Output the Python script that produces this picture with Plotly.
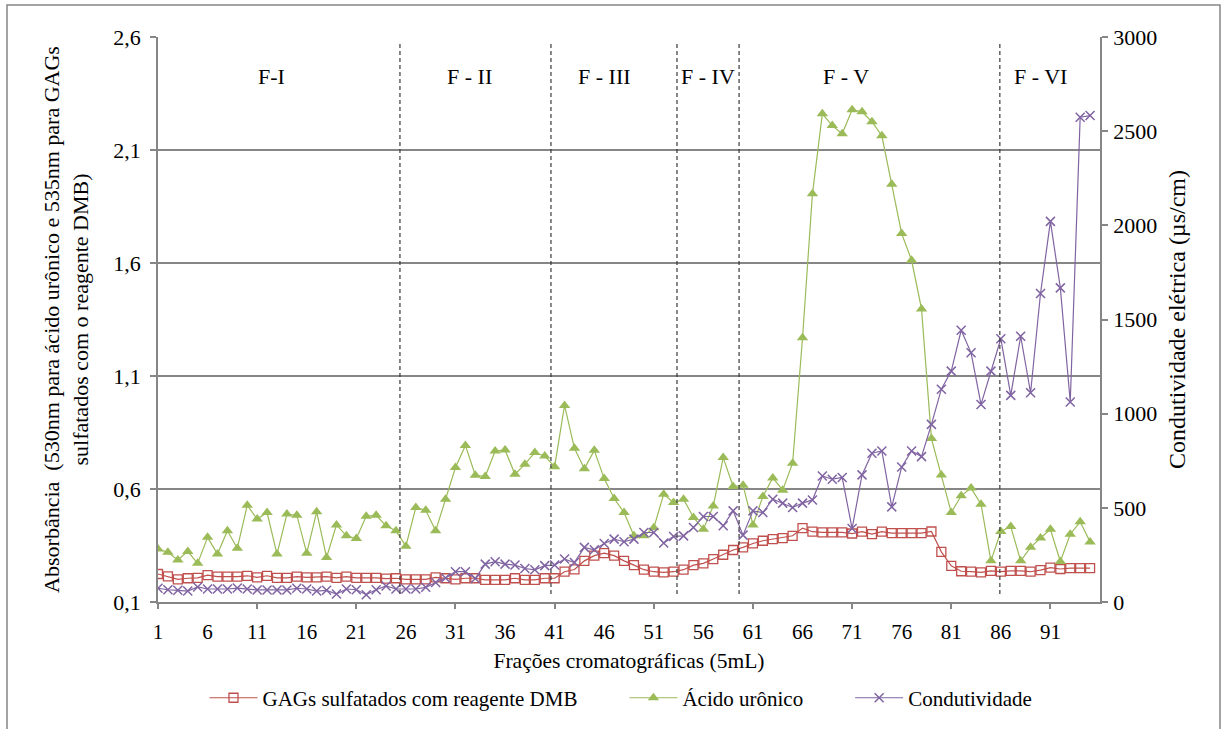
import plotly.graph_objects as go

# Fraction numbers (5 mL each)
fractions = list(range(1, 96))

# Absorbance at 535 nm, sulfated GAGs with DMB reagent
gags_dmb = [
    0.224, 0.213, 0.200, 0.205, 0.207, 0.219, 0.212, 0.212, 0.212, 0.216,
    0.209, 0.216, 0.207, 0.207, 0.212, 0.209, 0.209, 0.212, 0.207, 0.212,
    0.207, 0.207, 0.207, 0.203, 0.205, 0.200, 0.200, 0.200, 0.209, 0.205,
    0.200, 0.205, 0.205, 0.198, 0.198, 0.198, 0.205, 0.198, 0.198, 0.205,
    0.205, 0.234, 0.244, 0.282, 0.305, 0.316, 0.305, 0.282, 0.263, 0.243,
    0.234, 0.231, 0.234, 0.243, 0.263, 0.271, 0.290, 0.309, 0.330, 0.342,
    0.359, 0.371, 0.378, 0.383, 0.393, 0.427, 0.411, 0.408, 0.408, 0.408,
    0.403, 0.411, 0.400, 0.411, 0.405, 0.405, 0.405, 0.405, 0.412, 0.322,
    0.260, 0.236, 0.234, 0.231, 0.238, 0.234, 0.238, 0.238, 0.234, 0.241,
    0.252, 0.246, 0.250, 0.250, 0.250,
]

# Absorbance at 530 nm, uronic acid
acido_uronico = [
    0.334, 0.320, 0.286, 0.324, 0.271, 0.386, 0.312, 0.415, 0.338, 0.528,
    0.467, 0.496, 0.312, 0.489, 0.484, 0.316, 0.499, 0.297, 0.441, 0.393,
    0.381, 0.479, 0.484, 0.437, 0.415, 0.347, 0.518, 0.506, 0.415, 0.555,
    0.695, 0.793, 0.661, 0.655, 0.768, 0.773, 0.665, 0.710, 0.761, 0.746,
    0.699, 0.970, 0.780, 0.690, 0.771, 0.646, 0.558, 0.496, 0.393, 0.393,
    0.428, 0.577, 0.540, 0.555, 0.474, 0.422, 0.525, 0.739, 0.611, 0.617,
    0.441, 0.567, 0.649, 0.595, 0.714, 1.269, 1.906, 2.260, 2.208, 2.172,
    2.278, 2.269, 2.225, 2.163, 1.948, 1.730, 1.612, 1.397, 0.823, 0.662,
    0.496, 0.570, 0.604, 0.533, 0.282, 0.412, 0.434, 0.282, 0.342, 0.383,
    0.422, 0.279, 0.400, 0.455, 0.366,
]

# Electrical conductivity (µS/cm)
condutividade = [
    73, 65, 62, 58, 80, 69, 69, 69, 74, 69,
    64, 64, 64, 64, 73, 69, 58, 62, 42, 69,
    65, 39, 65, 85, 69, 69, 69, 78, 104, 127,
    161, 161, 125, 201, 214, 201, 196, 178, 171, 193,
    196, 228, 210, 290, 277, 311, 334, 320, 334, 369,
    369, 313, 348, 351, 396, 454, 454, 405, 484, 355,
    484, 475, 546, 525, 502, 525, 542, 669, 652, 661,
    390, 675, 790, 802, 505, 717, 802, 772, 943, 1130,
    1226, 1443, 1323, 1049, 1226, 1398, 1097, 1411, 1111, 1638,
    2021, 1668, 1062, 2574, 2583,
]

# Fraction-group boundaries and group labels
boundaries = [25.4, 40.63, 53.34, 59.6, 85.9]
group_names = ["F-I", "F - II", "F - III", "F - IV", "F - V", "F - VI"]
group_centers = [12.47, 32.46, 45.98, 56.47, 70.38, 89.95]

# Axis ticks
x_label_vals = list(range(1, 96, 5))
x_mark_vals = list(range(1, 96, 10))
y_left_vals = [0.1, 0.6, 1.1, 1.6, 2.1, 2.6]
y_left_text = ["0,1", "0,6", "1,1", "1,6", "2,1", "2,6"]
y_right_vals = [0, 500, 1000, 1500, 2000, 2500, 3000]

FONT = "Liberation Serif"
GRAY = "#868686"
RED = "#C0504D"
GREEN = "#9BBB59"
PURPLE = "#8064A2"

# non-breaking padding after legend labels widens the gap between entries
PAD = "\u00a0" * 8

fig = go.Figure()

fig.add_trace(go.Scatter(
    x=fractions, y=gags_dmb, name="GAGs sulfatados com reagente DMB" + PAD,
    mode="lines+markers", xaxis="x", yaxis="y",
    line=dict(color=RED, width=1.2),
    marker=dict(symbol="square-open", size=9, color=RED, line=dict(width=1.3)),
))
fig.add_trace(go.Scatter(
    x=fractions, y=acido_uronico, name="Ácido urônico" + PAD,
    mode="lines+markers", xaxis="x", yaxis="y",
    line=dict(color=GREEN, width=1.2),
    marker=dict(symbol="triangle-up", size=10, color=GREEN),
))
fig.add_trace(go.Scatter(
    x=fractions, y=condutividade, name="Condutividade",
    mode="lines+markers", xaxis="x2", yaxis="y2",
    line=dict(color=PURPLE, width=1.2),
    marker=dict(symbol="x-thin-open", size=9, color=PURPLE,
                line=dict(width=1.5, color=PURPLE)),
))

# dashed separators between fraction groups
for b in boundaries:
    fig.add_shape(type="line", xref="x", yref="paper", x0=b, x1=b,
                  y0=0.014, y1=0.991,
                  line=dict(color="#3a3a3a", width=1.2, dash="4px,3px"))

for name, cx in zip(group_names, group_centers):
    fig.add_annotation(x=cx, y=0.956, xref="x", yref="paper", text=name,
                       showarrow=False, font=dict(family=FONT, size=22, color="black"))

# chart-area frame
fig.add_shape(type="rect", xref="paper", yref="paper",
              x0=-0.1603, x1=1.1274, y0=-0.24, y1=1.0565,
              line=dict(color=GRAY, width=1.5), fillcolor="rgba(0,0,0,0)",
              layer="below")

fig.update_layout(
    width=1223, height=729,
    margin=dict(l=158, r=123, t=37, b=126),
    paper_bgcolor="white", plot_bgcolor="white",
    font=dict(family=FONT, size=21, color="black"),
    showlegend=True,
    legend=dict(orientation="h", x=0.4915, xanchor="center", y=-0.168, yanchor="middle",
                font=dict(family=FONT, size=21), itemwidth=48,
                bgcolor="rgba(0,0,0,0)"),
    xaxis=dict(
        range=[1, 96], tickmode="array", tickvals=x_label_vals,
        ticktext=[str(v) for v in x_label_vals],
        ticks="outside", ticklen=10, tickcolor="rgba(0,0,0,0)",
        showline=True, linecolor=GRAY, linewidth=1.5,
        showgrid=False, zeroline=False,
        tickfont=dict(family=FONT, size=21),
        title=dict(text="Frações cromatográficas (5mL)", standoff=10,
                   font=dict(family=FONT, size=21.5)),
    ),
    xaxis2=dict(
        range=[1, 96], overlaying="x", anchor="y2", side="bottom",
        tickmode="array", tickvals=x_mark_vals, showticklabels=False,
        ticks="outside", ticklen=6, tickcolor=GRAY, tickwidth=1.5,
        showline=False, showgrid=False, zeroline=False,
    ),
    yaxis=dict(
        range=[0.1, 2.6], tickmode="array", tickvals=y_left_vals, ticktext=y_left_text,
        ticks="outside", ticklen=6, tickcolor=GRAY, tickwidth=1.5,
        showline=True, linecolor=GRAY, linewidth=1.5,
        showgrid=True, gridcolor=GRAY, gridwidth=1.5, zeroline=False,
        tickfont=dict(family=FONT, size=22), ticklabelstandoff=5,
        title=dict(text="Absorbância  (530nm para ácido urônico e 535nm para GAGs<br>"
                        "sulfatados com o reagente DMB)",
                   standoff=19, font=dict(family=FONT, size=22)),
    ),
    yaxis2=dict(
        range=[0, 3000], overlaying="y", side="right", anchor="x2",
        tickmode="array", tickvals=y_right_vals,
        ticktext=[str(v) for v in y_right_vals],
        ticks="outside", ticklen=6, tickcolor=GRAY, tickwidth=1.5,
        showline=True, linecolor=GRAY, linewidth=1.5,
        showgrid=False, zeroline=False,
        tickfont=dict(family=FONT, size=22), ticklabelstandoff=1,
        title=dict(text="Condutividade elétrica (µs/cm)", standoff=12,
                   font=dict(family=FONT, size=24)),
    ),
)

fig.write_html("out.html")
